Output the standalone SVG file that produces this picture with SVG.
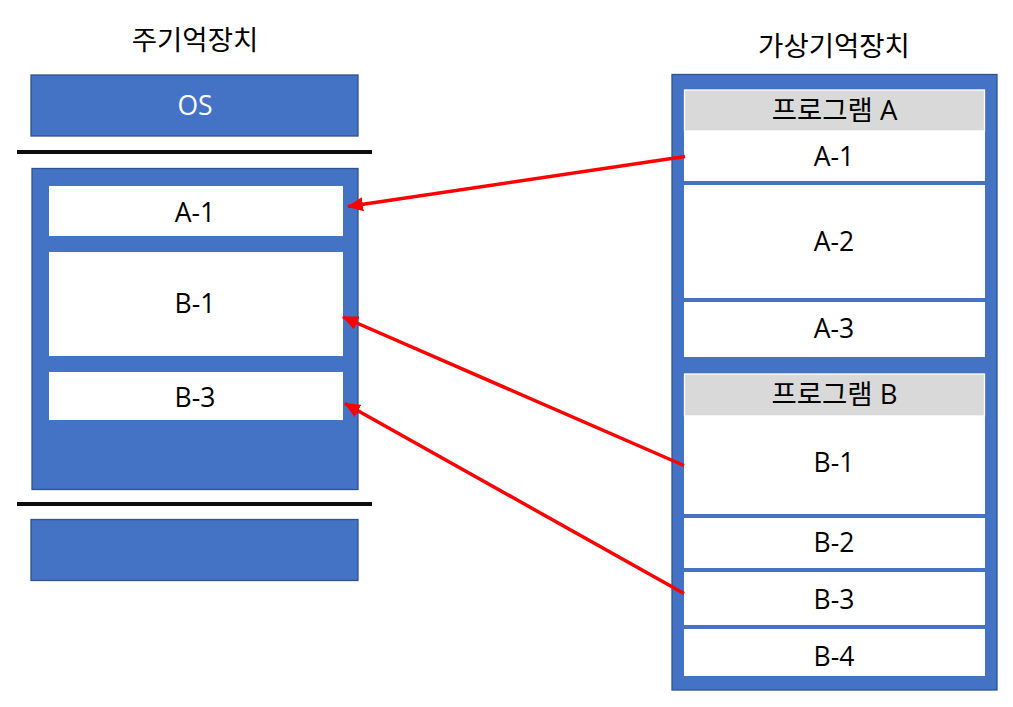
<svg xmlns="http://www.w3.org/2000/svg" width="1013" height="707" viewBox="0 0 1013 707">
<defs>
<style>
.blue{fill:#4472C4;stroke:#2F528F;stroke-width:1.3}
.cell{fill:#FFFFFF}
.hdr{fill:#D9D9D9;stroke:#FFFFFF;stroke-width:1.3}
.sep{stroke:#0D0D0D;stroke-width:4}
.t{font-family:"Open Sans","Noto Sans CJK KR",sans-serif;font-size:26.5px;fill:#000;text-anchor:middle}
.k{font-size:27.5px}
.tw{fill:#FFFFFF}
.arr{stroke:#FF0000;stroke-width:3.5;fill:none;marker-end:url(#ah)}
</style>
<marker id="ah" markerUnits="userSpaceOnUse" markerWidth="16" markerHeight="14" viewBox="0 0 16 14" refX="15" refY="7" orient="auto">
<path d="M0,0 L16,7 L0,14 Z" fill="#FF0000"/>
</marker>
</defs>
<g id="title-main"><text class="t k" x="195" y="50">주기억장치</text></g>
<g id="title-virtual"><text class="t k" x="834" y="56">가상기억장치</text></g>
<g id="main-memory">
<g id="os"><rect class="blue" x="31" y="75" width="327" height="61"/><text class="t tw" x="195" y="115">OS</text></g>
<line class="sep" x1="17" y1="152" x2="372" y2="152"/>
<g id="user-area"><rect class="blue" x="32" y="168.5" width="326" height="321"/></g>
<g id="main-a1"><rect class="cell" x="49" y="186" width="294" height="50"/><text class="t" x="195" y="222">A-1</text></g>
<g id="main-b1"><rect class="cell" x="49" y="252" width="294" height="104"/><text class="t" x="195" y="313">B-1</text></g>
<g id="main-b3"><rect class="cell" x="49" y="372" width="294" height="48"/><text class="t" x="195" y="407">B-3</text></g>
<line class="sep" x1="17" y1="504" x2="372" y2="504"/>
<g id="bottom"><rect class="blue" x="31" y="519.5" width="327" height="61"/></g>
</g>
<g id="virtual-memory">
<rect class="blue" x="672" y="74.5" width="325" height="615.5"/>
<g id="prog-a"><rect class="hdr" x="684.5" y="90" width="300" height="41"/><text class="t k" x="834.5" y="120">프로그램 A</text></g>
<g id="v-a1"><rect class="cell" x="684" y="131" width="301" height="50"/><text class="t" x="834" y="166">A-1</text></g>
<g id="v-a2"><rect class="cell" x="684" y="185" width="301" height="113"/><text class="t" x="834" y="251">A-2</text></g>
<g id="v-a3"><rect class="cell" x="684" y="302" width="301" height="55"/><text class="t" x="834" y="338">A-3</text></g>
<g id="prog-b"><rect class="hdr" x="684.5" y="374" width="300" height="42"/><text class="t k" x="834.5" y="404">프로그램 B</text></g>
<g id="v-b1"><rect class="cell" x="684" y="416" width="301" height="98"/><text class="t" x="834" y="472">B-1</text></g>
<g id="v-b2"><rect class="cell" x="684" y="518" width="301" height="50"/><text class="t" x="834" y="552">B-2</text></g>
<g id="v-b3"><rect class="cell" x="684" y="572" width="301" height="53"/><text class="t" x="834" y="609">B-3</text></g>
<g id="v-b4"><rect class="cell" x="684" y="629" width="301" height="47"/><text class="t" x="834" y="666">B-4</text></g>
</g>
<g id="connectors">
<line class="arr" x1="685" y1="156.5" x2="348" y2="206.5"/>
<line class="arr" x1="684" y1="465.5" x2="343" y2="317"/>
<line class="arr" x1="684" y1="593.5" x2="345" y2="403.5"/>
</g>
</svg>
